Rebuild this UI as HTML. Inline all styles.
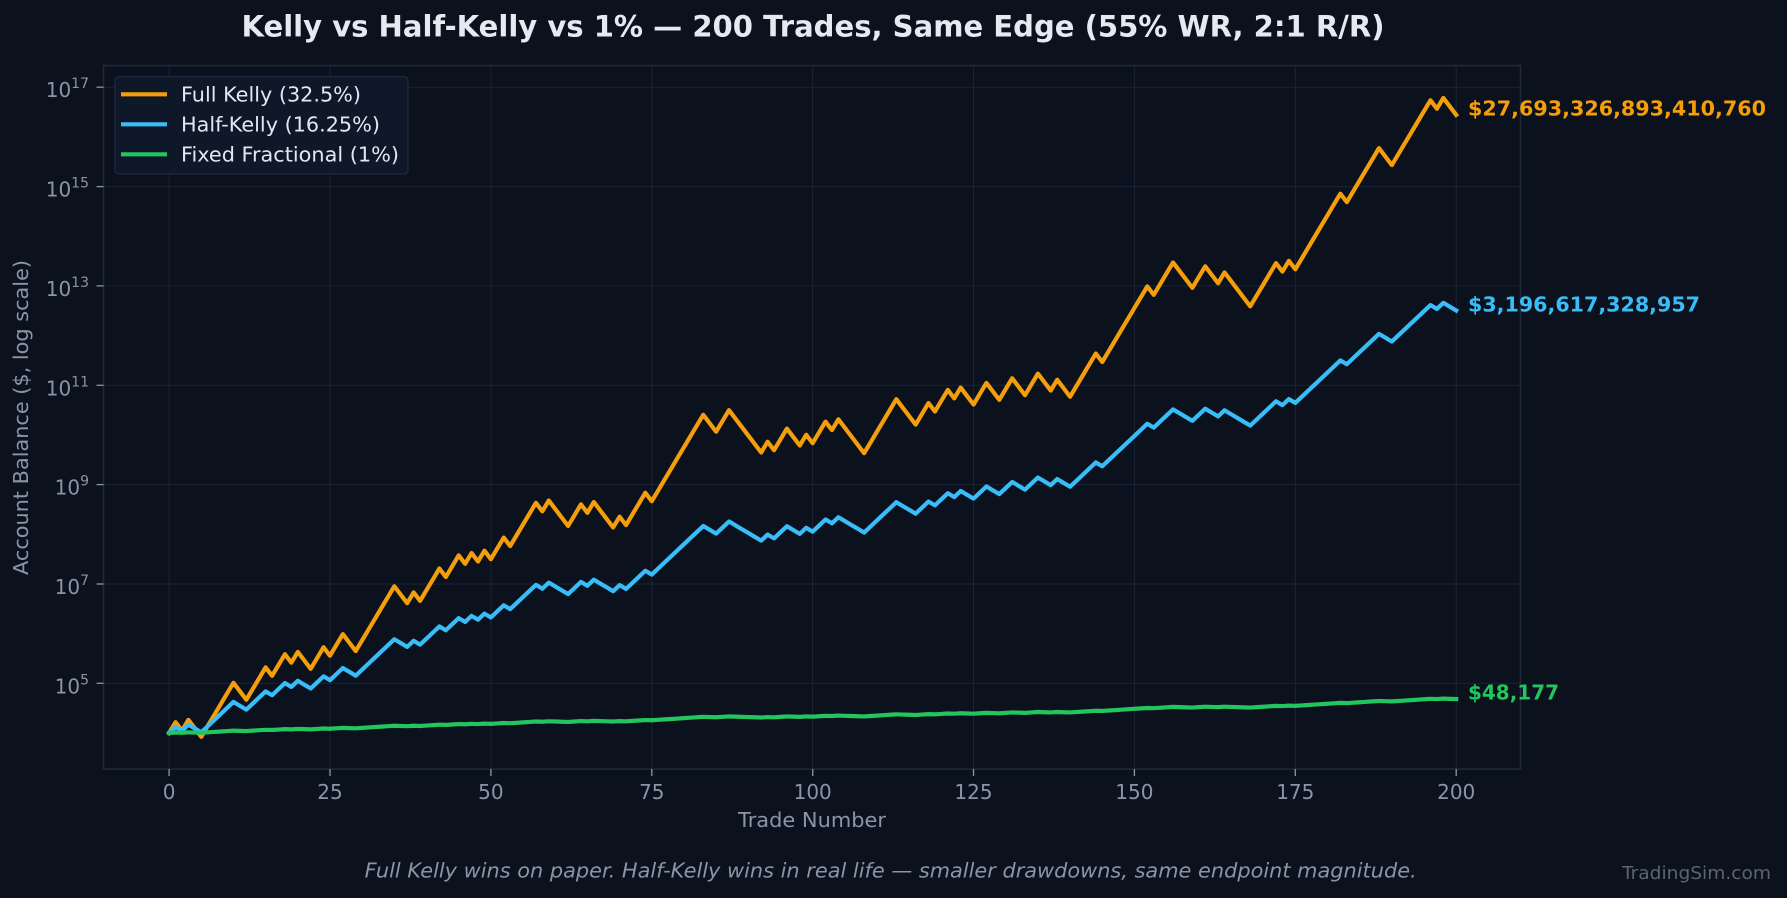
<!DOCTYPE html>
<html>
<head>
<meta charset="utf-8">
<style>
  html,body{margin:0;padding:0;background:#0b111d;overflow:hidden;}
  svg{display:block;}
  text{font-family:"DejaVu Sans","Liberation Sans",sans-serif;}
</style>
</head>
<body>
<svg xmlns="http://www.w3.org/2000/svg" width="1787" height="898" viewBox="0 0 1787 898">
  <rect x="0" y="0" width="1787" height="898" fill="#0b111d"/>
  <rect x="103.5" y="65.5" width="1417" height="703.5" fill="#0b111d"/>

  <g stroke="#1b2437" stroke-width="1">
    <line x1="169.1" y1="65.5" x2="169.1" y2="769"/>
    <line x1="330.0" y1="65.5" x2="330.0" y2="769"/>
    <line x1="490.9" y1="65.5" x2="490.9" y2="769"/>
    <line x1="651.8" y1="65.5" x2="651.8" y2="769"/>
    <line x1="812.7" y1="65.5" x2="812.7" y2="769"/>
    <line x1="973.5" y1="65.5" x2="973.5" y2="769"/>
    <line x1="1134.4" y1="65.5" x2="1134.4" y2="769"/>
    <line x1="1295.3" y1="65.5" x2="1295.3" y2="769"/>
    <line x1="1456.2" y1="65.5" x2="1456.2" y2="769"/>
    <line x1="103.5" y1="87.2" x2="1520.5" y2="87.2"/>
    <line x1="103.5" y1="186.6" x2="1520.5" y2="186.6"/>
    <line x1="103.5" y1="285.9" x2="1520.5" y2="285.9"/>
    <line x1="103.5" y1="385.3" x2="1520.5" y2="385.3"/>
    <line x1="103.5" y1="484.6" x2="1520.5" y2="484.6"/>
    <line x1="103.5" y1="584.0" x2="1520.5" y2="584.0"/>
    <line x1="103.5" y1="683.3" x2="1520.5" y2="683.3"/>
  </g>

  <g fill="none" stroke-linejoin="round" stroke-linecap="square" stroke-width="4.2">
    <polyline id="pk" stroke="#f59e0b" points=""/>
    <polyline id="ph" stroke="#38bdf8" points=""/>
    <polyline id="pf" stroke="#22c55e" points=""/>
  </g>

  <rect x="103.5" y="65.5" width="1417" height="703.5" fill="none" stroke="#1f2a3e" stroke-width="1.6"/>

  <g stroke="#8b95a8" stroke-width="1.3">
    <line x1="96.5" y1="87.2" x2="103.5" y2="87.2"/>
    <line x1="96.5" y1="186.6" x2="103.5" y2="186.6"/>
    <line x1="96.5" y1="285.9" x2="103.5" y2="285.9"/>
    <line x1="96.5" y1="385.3" x2="103.5" y2="385.3"/>
    <line x1="96.5" y1="484.6" x2="103.5" y2="484.6"/>
    <line x1="96.5" y1="584.0" x2="103.5" y2="584.0"/>
    <line x1="96.5" y1="683.3" x2="103.5" y2="683.3"/>
    <line x1="169.1" y1="769" x2="169.1" y2="776"/>
    <line x1="330.0" y1="769" x2="330.0" y2="776"/>
    <line x1="490.9" y1="769" x2="490.9" y2="776"/>
    <line x1="651.8" y1="769" x2="651.8" y2="776"/>
    <line x1="812.7" y1="769" x2="812.7" y2="776"/>
    <line x1="973.5" y1="769" x2="973.5" y2="776"/>
    <line x1="1134.4" y1="769" x2="1134.4" y2="776"/>
    <line x1="1295.3" y1="769" x2="1295.3" y2="776"/>
    <line x1="1456.2" y1="769" x2="1456.2" y2="776"/>
  </g>

  <g fill="#8b95a8" font-size="20" text-anchor="end">
    <text x="89" y="97.2">10<tspan font-size="14" dy="-9">17</tspan></text>
    <text x="89" y="196.6">10<tspan font-size="14" dy="-9">15</tspan></text>
    <text x="89" y="295.9">10<tspan font-size="14" dy="-9">13</tspan></text>
    <text x="89" y="395.3">10<tspan font-size="14" dy="-9">11</tspan></text>
    <text x="89" y="494.6">10<tspan font-size="14" dy="-9">9</tspan></text>
    <text x="89" y="594.0">10<tspan font-size="14" dy="-9">7</tspan></text>
    <text x="89" y="693.3">10<tspan font-size="14" dy="-9">5</tspan></text>
  </g>

  <g fill="#8b95a8" font-size="20" text-anchor="middle">
    <text x="169.1" y="799">0</text>
    <text x="330.0" y="799">25</text>
    <text x="490.9" y="799">50</text>
    <text x="651.8" y="799">75</text>
    <text x="812.7" y="799">100</text>
    <text x="973.5" y="799">125</text>
    <text x="1134.4" y="799">150</text>
    <text x="1295.3" y="799">175</text>
    <text x="1456.2" y="799">200</text>
  </g>

  <text x="812" y="827" fill="#8b95a8" font-size="20" text-anchor="middle" textLength="148" lengthAdjust="spacingAndGlyphs">Trade Number</text>
  <text transform="translate(28,417.5) rotate(-90)" fill="#8b95a8" font-size="20" text-anchor="middle" textLength="315" lengthAdjust="spacingAndGlyphs">Account Balance ($, log scale)</text>

  <text x="241.5" y="36.7" fill="#e5e9f2" font-size="29" font-weight="bold" textLength="1143" lengthAdjust="spacingAndGlyphs">Kelly vs Half-Kelly vs 1% — 200 Trades, Same Edge (55% WR, 2:1 R/R)</text>

  <rect x="115" y="76.5" width="293" height="97.5" rx="4" ry="4" fill="#0f1829" stroke="#1f2a3f" stroke-width="1.3"/>
  <g stroke-width="4.2">
    <line x1="121" y1="94.3" x2="167" y2="94.3" stroke="#f59e0b"/>
    <line x1="121" y1="124.3" x2="167" y2="124.3" stroke="#38bdf8"/>
    <line x1="121" y1="154.3" x2="167" y2="154.3" stroke="#22c55e"/>
  </g>
  <g fill="#e2e8f0" font-size="20">
    <text x="181" y="101.5" textLength="180" lengthAdjust="spacingAndGlyphs">Full Kelly (32.5%)</text>
    <text x="181" y="131.5" textLength="199" lengthAdjust="spacingAndGlyphs">Half-Kelly (16.25%)</text>
    <text x="181" y="161.5" textLength="218" lengthAdjust="spacingAndGlyphs">Fixed Fractional (1%)</text>
  </g>

  <g font-size="20" font-weight="bold">
    <text x="1468" y="115.5" fill="#f59e0b" textLength="298" lengthAdjust="spacingAndGlyphs">$27,693,326,893,410,760</text>
    <text x="1468" y="311.5" fill="#38bdf8" textLength="232" lengthAdjust="spacingAndGlyphs">$3,196,617,328,957</text>
    <text x="1468" y="699.5" fill="#22c55e" textLength="91" lengthAdjust="spacingAndGlyphs">$48,177</text>
  </g>

  <text x="364.7" y="877.5" fill="#8b95a8" font-size="20" font-style="italic" textLength="1052" lengthAdjust="spacingAndGlyphs">Full Kelly wins on paper. Half-Kelly wins in real life — smaller drawdowns, same endpoint magnitude.</text>

  <text x="1622" y="879" fill="#5b6475" font-size="18" textLength="149" lengthAdjust="spacingAndGlyphs">TradingSim.com</text>
</svg>
<script>
(function(){
  var runs=[1,1,1,2,5,2,3,1,2,1,1,2,2,1,2,2,6,2,1,1,3,1,2,1,1,1,1,1,2,1,4,1,1,3,2,1,1,3,1,1,3,1,8,2,2,5,1,1,2,2,1,1,2,1,1,4,5,3,2,1,2,1,1,2,2,2,2,2,2,2,1,2,4,1,7,1,3,3,2,2,1,4,4,1,1,1,7,1,5,2,6,1,1,2];
  var seq=[];
  for(var i=0;i<runs.length;i++){for(var k=0;k<runs[i];k++){seq.push(i%2===0);}}
  function X(t){return 169.1+6.4355*t;}
  function Y(L){return 87.2+(17-L)*49.675;}
  function pts(win,loss){
    var v=4, out=[X(0).toFixed(2)+','+Y(v).toFixed(2)];
    var lw=Math.log10(win), ll=Math.log10(loss);
    for(var j=0;j<seq.length;j++){
      v+= seq[j]?lw:ll;
      out.push(X(j+1).toFixed(2)+','+Y(v).toFixed(2));
    }
    return out.join(' ');
  }
  document.getElementById('pk').setAttribute('points',pts(1.65,0.675));
  document.getElementById('ph').setAttribute('points',pts(1.325,0.8375));
  document.getElementById('pf').setAttribute('points',pts(1.02,0.99));
})();
</script>
</body>
</html>
